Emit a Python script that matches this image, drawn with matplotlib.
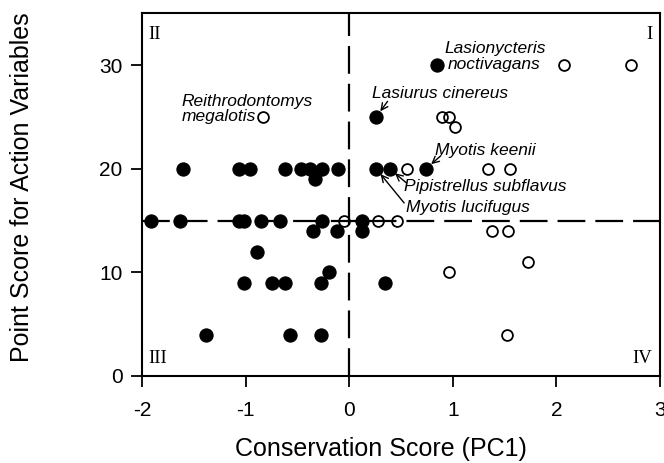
import matplotlib
matplotlib.use("Agg")
import matplotlib.pyplot as plt

plt.rcParams['font.family'] = ['Liberation Sans', 'DejaVu Sans']
plt.rcParams['axes.unicode_minus'] = False

# Filled circles
filled_x = [-1.60, -1.06, -0.96, -0.62, -0.47, -0.38, -0.26, -0.11, 0.26, 0.39, 0.74,
            -0.33,
            0.85, 0.26,
            -1.91, -1.63, -1.06, -1.02, -0.85, -0.67, -0.26, 0.12,
            -0.35, -0.12, 0.12,
            -0.89, -0.20,
            -1.02, -0.75, -0.62, -0.27, 0.35,
            -1.38, -0.57, -0.27]
filled_y = [20, 20, 20, 20, 20, 20, 20, 20, 20, 20, 20,
            19,
            30, 25,
            15, 15, 15, 15, 15, 15, 15, 15,
            14, 14, 14,
            12, 10,
            9, 9, 9, 9, 9,
            4, 4, 4]

# Open circles
open_x = [0.56, 1.34, 1.55, 2.07, 2.72, 0.90, 0.96, 1.02, -0.83,
          -0.05, 0.28, 0.46, 1.38, 1.53, 1.73, 0.96, 1.52]
open_y = [20, 20, 20, 30, 30, 25, 25, 24, 25,
          15, 15, 15, 14, 14, 11, 10, 4]

x_ticks = [-2, -1, 0, 1, 2, 3]
y_ticks = [0, 10, 20, 30]

fig = plt.figure(figsize=(6.64, 4.63), dpi=100)
ax = fig.add_axes([0.2139, 0.188, 0.7801, 0.7832])

dash = dict(color='black', lw=1.6, linestyle=(0, (12.5, 4.5)), zorder=1)
ax.axhline(15, **dash)
ax.axvline(0, **dash)

ax.plot(filled_x, filled_y, 'o', ms=9.5, mfc='black', mec='black', mew=0.8, ls='none', zorder=3)
ax.plot(open_x, open_y, 'o', ms=7.8, mfc='none', mec='black', mew=1.3, ls='none', zorder=3)

ax.set_xlim(-2, 3)
ax.set_ylim(0, 35)
ax.set_xticks(x_ticks)
ax.set_yticks(y_ticks)
ax.tick_params(direction='out', length=8, width=1.3, labelsize=15)
ax.tick_params(axis='y', pad=6)
ax.tick_params(axis='x', pad=10)
for s in ax.spines.values():
    s.set_linewidth(1.5)

ax.set_xlabel('Conservation Score (PC1)', fontsize=18, va='center')
ax.xaxis.set_label_coords(0.462, -0.201)
ax.set_ylabel('Point Score for Action Variables', fontsize=18, va='center')
ax.yaxis.set_label_coords(-0.232, 0.52)

# Species labels
it = dict(style='italic', fontsize=12.5)
ax.text(-1.62, 25.8, 'Reithrodontomys\nmegalotis', ha='left', va='center', linespacing=1.0, **it)
ax.text(0.92, 31.6, 'Lasionycteris', ha='left', va='center', **it)
ax.text(0.95, 30.1, 'noctivagans', ha='left', va='center', **it)
ax.text(0.22, 27.3, 'Lasiurus cinereus', ha='left', va='center', **it)
ax.text(0.83, 21.8, 'Myotis keenii', ha='left', va='center', **it)
ax.text(0.53, 18.3, 'Pipistrellus subflavus', ha='left', va='center', **it)
ax.text(0.55, 16.3, 'Myotis lucifugus', ha='left', va='center', **it)

arr = dict(arrowstyle='->', lw=1.0, color='black', shrinkA=0, shrinkB=5, mutation_scale=12)
ax.annotate('', xy=(0.26, 25), xytext=(0.37, 26.5), arrowprops=arr)
ax.annotate('', xy=(0.74, 20), xytext=(0.885, 21.26), arrowprops=arr)
ax.annotate('', xy=(0.39, 20), xytext=(0.55, 18.65), arrowprops=arr)
ax.annotate('', xy=(0.26, 20), xytext=(0.53, 16.7), arrowprops=arr)

# Quadrant labels
q = dict(family=['Liberation Serif', 'DejaVu Serif'], fontsize=13.5)
ax.text(0.012, 0.965, 'II', transform=ax.transAxes, ha='left', va='top', **q)
ax.text(0.985, 0.965, 'I', transform=ax.transAxes, ha='right', va='top', **q)
ax.text(0.012, 0.025, 'III', transform=ax.transAxes, ha='left', va='bottom', **q)
ax.text(0.985, 0.025, 'IV', transform=ax.transAxes, ha='right', va='bottom', **q)

fig.savefig('out.png', dpi=100)
